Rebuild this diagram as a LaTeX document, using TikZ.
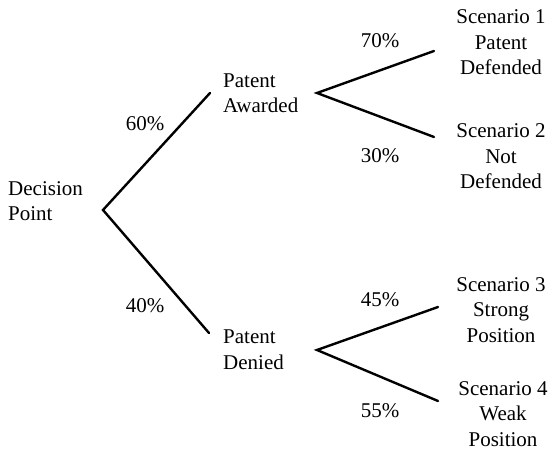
\documentclass[tikz,border=0pt]{standalone}
\usepackage{fontspec}
\setmainfont{Liberation Serif}
\begin{document}
\begin{tikzpicture}[x=1bp,y=-1bp,
  lbl/.style={inner sep=0pt,font=\fontsize{21bp}{25.5bp}\selectfont},
  pct/.style={lbl,anchor=base},
  scen/.style={lbl,align=center,anchor=base},
  lft/.style={lbl,align=left,anchor=base west},
  branch/.style={line width=2.4bp,line cap=round,line join=miter}]
\useasboundingbox (0,0) rectangle (551,450);
% vertices
\coordinate (dp) at (103,210);
\coordinate (pa) at (210,93);
\coordinate (pd) at (209,333);
\coordinate (av) at (317,93);
\coordinate (dv) at (317,350);
\coordinate (s1) at (434,51);
\coordinate (s2) at (434,137);
\coordinate (s3) at (438,307);
\coordinate (s4) at (438,401);
% branches
\draw[branch] (pa) -- (dp) -- (pd);
\draw[branch] (s1) -- (av) -- (s2);
\draw[branch] (s3) -- (dv) -- (s4);
% labels (anchor base = baseline of last line)
\node[lft] (tdp) at (8,221) {Decision\\Point};
\node[lft] (tpa) at (223,113) {Patent\\Awarded};
\node[lft] (tpd) at (223,369) {Patent\\Denied};
\node[scen] (ts1) at (501,75) {Scenario 1\\Patent\\Defended};
\node[scen] (ts2) at (501,189) {Scenario 2\\Not\\Defended};
\node[scen] (ts3) at (501,342) {Scenario 3\\Strong\\Position};
\node[scen] (ts4) at (503,446) {Scenario 4\\Weak\\Position};
\node[pct] (p60) at (145,131) {60\%};
\node[pct] (p40) at (145,312) {40\%};
\node[pct] (p70) at (380,48) {70\%};
\node[pct] (p30) at (380,163) {30\%};
\node[pct] (p45) at (380,306) {45\%};
\node[pct] (p55) at (380,417) {55\%};
\end{tikzpicture}
\end{document}
